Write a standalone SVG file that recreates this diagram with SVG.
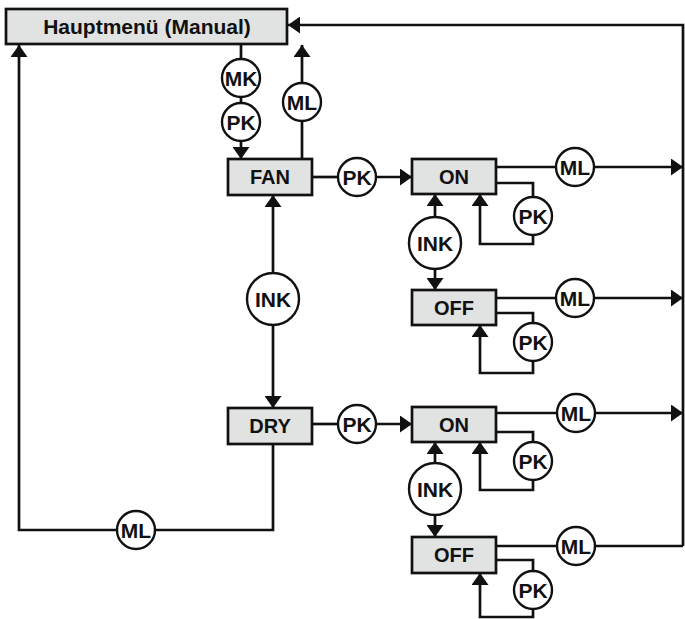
<svg xmlns="http://www.w3.org/2000/svg" width="685" height="619" viewBox="0 0 685 619">
<defs>
<style>
.box{fill:#e1e2e2;stroke:#111;stroke-width:2.7}
.c{fill:#fff;stroke:#111;stroke-width:2.4}
.ln{fill:none;stroke:#111;stroke-width:2.7}
.t{font-family:"Liberation Sans",Arial,Helvetica,sans-serif;font-weight:bold;font-size:20px;fill:#111;text-anchor:middle}
.ct{font-size:21px}
</style>
<marker id="ah" viewBox="0 0 12 17" markerWidth="12" markerHeight="17" refX="12" refY="8.5" orient="auto" markerUnits="userSpaceOnUse">
<path d="M0,0 L12,8.5 L0,17 z" fill="#111"/>
</marker>
</defs>
<rect width="685" height="619" fill="#fff"/>
<g id="connectors">
<path class="ln" d="M241,44 V59"/>
<path class="ln" d="M241,97 V103"/>
<path class="ln" d="M241,141 V159" marker-end="url(#ah)"/>
<path class="ln" d="M302,159 V121"/>
<path class="ln" d="M302,82 V45" marker-end="url(#ah)"/>
<path class="ln" d="M683,546 V25 H288" marker-end="url(#ah)"/>
<path class="ln" d="M273,273 V195" marker-end="url(#ah)"/>
<path class="ln" d="M273,325 V408" marker-end="url(#ah)"/>
<path class="ln" d="M273,444 V530 H155"/>
<path class="ln" d="M117,530 H19 V45" marker-end="url(#ah)"/>
<path class="ln" d="M312,177 H338"/>
<path class="ln" d="M376,177 H412" marker-end="url(#ah)"/>
<path class="ln" d="M312,424 H338"/>
<path class="ln" d="M376,424 H412" marker-end="url(#ah)"/>
<path class="ln" d="M496,167 H556"/>
<path class="ln" d="M594,167 H683" marker-end="url(#ah)"/>
<path class="ln" d="M496,183 H533 V197"/>
<path class="ln" d="M533,235 V244 H480 V194" marker-end="url(#ah)"/>
<path class="ln" d="M435,217 V194" marker-end="url(#ah)"/>
<path class="ln" d="M435,269 V290" marker-end="url(#ah)"/>
<path class="ln" d="M496,298 H556"/>
<path class="ln" d="M594,298 H683" marker-end="url(#ah)"/>
<path class="ln" d="M496,313 H533 V323"/>
<path class="ln" d="M533,361 V373 H480 V325" marker-end="url(#ah)"/>
<path class="ln" d="M496,413 H557"/>
<path class="ln" d="M595,413 H683" marker-end="url(#ah)"/>
<path class="ln" d="M496,432 H533 V442"/>
<path class="ln" d="M533,480 V490 H480 V442" marker-end="url(#ah)"/>
<path class="ln" d="M435,463 V442" marker-end="url(#ah)"/>
<path class="ln" d="M435,515 V537" marker-end="url(#ah)"/>
<path class="ln" d="M496,546 H557"/>
<path class="ln" d="M595,546 H683"/>
<path class="ln" d="M496,560 H533 V571"/>
<path class="ln" d="M533,609 V617 H480 V573" marker-end="url(#ah)"/>
</g>
<g id="main"><rect class="box" x="6" y="9" width="281" height="35"/><text class="t" x="147" y="34" style="font-size:21px">Hauptmenü (Manual)</text></g>
<g id="fan"><rect class="box" x="228" y="159" width="84" height="36"/><text class="t" x="270" y="184">FAN</text></g>
<g id="dry"><rect class="box" x="228" y="408" width="84" height="36"/><text class="t" x="270" y="433">DRY</text></g>
<g id="on1"><rect class="box" x="412" y="159" width="84" height="35"/><text class="t" x="454" y="184">ON</text></g>
<g id="off1"><rect class="box" x="412" y="290" width="84" height="35"/><text class="t" x="454" y="315">OFF</text></g>
<g id="on2"><rect class="box" x="412" y="407" width="84" height="35"/><text class="t" x="454" y="432">ON</text></g>
<g id="off2"><rect class="box" x="412" y="537" width="84" height="36"/><text class="t" x="454" y="562">OFF</text></g>
<g id="mk"><circle class="c" cx="241" cy="78" r="19"/><text class="t ct" x="241" y="85.5">MK</text></g>
<g id="pk-top"><circle class="c" cx="241" cy="122" r="19"/><text class="t ct" x="241" y="129.5">PK</text></g>
<g id="ml-top"><circle class="c" cx="302" cy="102" r="19"/><text class="t ct" x="302" y="109.5">ML</text></g>
<g id="ink-main"><circle class="c" cx="273" cy="299" r="26"/><text class="t ct" x="273" y="306.5">INK</text></g>
<g id="ml-bottom"><circle class="c" cx="136" cy="530" r="19"/><text class="t ct" x="136" y="537.5">ML</text></g>
<g id="pk-fan"><circle class="c" cx="357" cy="177" r="19"/><text class="t ct" x="357" y="184.5">PK</text></g>
<g id="pk-dry"><circle class="c" cx="357" cy="424" r="19"/><text class="t ct" x="357" y="431.5">PK</text></g>
<g id="ml-on1"><circle class="c" cx="575" cy="167" r="19"/><text class="t ct" x="575" y="174.5">ML</text></g>
<g id="pk-on1"><circle class="c" cx="533" cy="216" r="19"/><text class="t ct" x="533" y="223.5">PK</text></g>
<g id="ink1"><circle class="c" cx="435" cy="243" r="26"/><text class="t ct" x="435" y="250.5">INK</text></g>
<g id="ml-off1"><circle class="c" cx="575" cy="298" r="19"/><text class="t ct" x="575" y="305.5">ML</text></g>
<g id="pk-off1"><circle class="c" cx="533" cy="342" r="19"/><text class="t ct" x="533" y="349.5">PK</text></g>
<g id="ml-on2"><circle class="c" cx="576" cy="413" r="19"/><text class="t ct" x="576" y="420.5">ML</text></g>
<g id="pk-on2"><circle class="c" cx="533" cy="461" r="19"/><text class="t ct" x="533" y="468.5">PK</text></g>
<g id="ink2"><circle class="c" cx="435" cy="489" r="26"/><text class="t ct" x="435" y="496.5">INK</text></g>
<g id="ml-off2"><circle class="c" cx="576" cy="546" r="19"/><text class="t ct" x="576" y="553.5">ML</text></g>
<g id="pk-off2"><circle class="c" cx="533" cy="590" r="19"/><text class="t ct" x="533" y="597.5">PK</text></g>
</svg>
